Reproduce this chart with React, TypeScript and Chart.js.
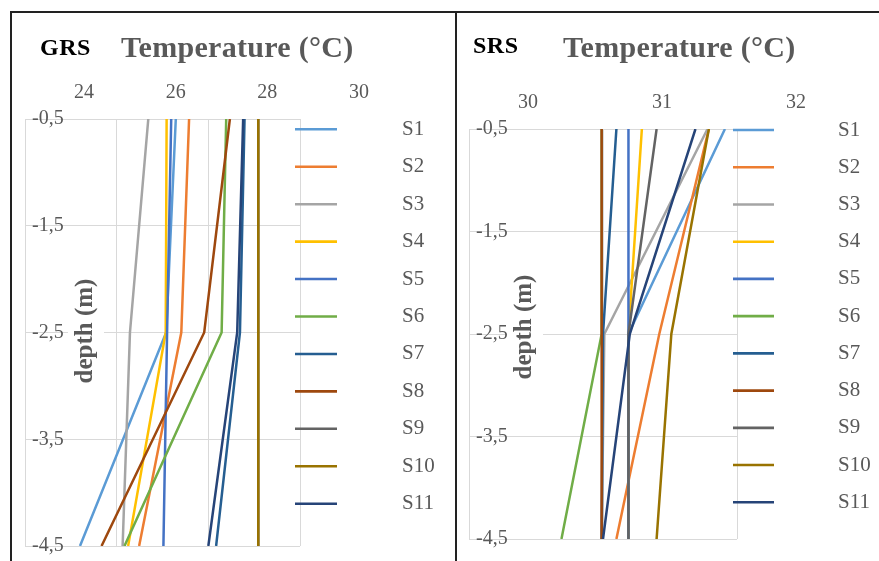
import React, { useEffect, useRef } from 'react';
import { Chart, registerables } from 'chart.js';

Chart.register(...registerables);

const FONT = '"Liberation Serif", "Times New Roman", serif';
const TEXT_GRAY = '#595959';
const GRID = '#d9d9d9';

// ---------- data ----------
const SERIES = ['S1', 'S2', 'S3', 'S4', 'S5', 'S6', 'S7', 'S8', 'S9', 'S10', 'S11'];
const COLORS = ['#5B9BD5', '#ED7D31', '#A5A5A5', '#FFC000', '#4472C4', '#70AD47', '#255E91', '#9E480E', '#636363', '#997300', '#264478'];

const DEPTHS = [-0.5, -2.5, -4.5];
const DEPTH_TICKS = [-4.5, -3.5, -2.5, -1.5, -0.5];

const GRS_TEMP_TICKS = [24, 26, 28, 30];
const SRS_TEMP_TICKS = [30, 31, 32];

// GRS temperatures at depths -0.5, -2.5, -4.5
const GRS_S1 = [27.29, 27.08, 25.2];
const GRS_S2 = [27.58, 27.41, 26.49];
const GRS_S3 = [26.69, 26.29, 26.13];
const GRS_S4 = [27.09, 27.07, 26.25];
const GRS_S5 = [27.19, 27.1, 27.02];
const GRS_S6 = [28.39, 28.29, 26.17];
const GRS_S7 = [28.79, 28.69, 28.17];
const GRS_S8 = [28.47, 27.91, 25.67];
const GRS_S9 = [29.09, 29.09, 29.09];
const GRS_S10 = [29.09, 29.09, 29.09];
const GRS_S11 = [28.76, 28.63, 28.0];

// SRS temperatures at depths -0.5, -2.5, -4.5
const SRS_S1 = [31.91, 31.19, 31.19];
const SRS_S2 = [31.79, 31.42, 31.1];
const SRS_S3 = [31.78, 31.01, 30.99];
const SRS_S4 = [31.29, 31.19, 31.19];
const SRS_S5 = [31.19, 31.19, 31.19];
const SRS_S6 = [30.99, 30.99, 30.69];
const SRS_S7 = [31.1, 31.0, 30.99];
const SRS_S8 = [30.99, 30.99, 30.99];
const SRS_S9 = [31.4, 31.19, 31.19];
const SRS_S10 = [31.79, 31.51, 31.4];
const SRS_S11 = [31.69, 31.2, 31.0];

const GRS_SERIES = [GRS_S1, GRS_S2, GRS_S3, GRS_S4, GRS_S5, GRS_S6, GRS_S7, GRS_S8, GRS_S9, GRS_S10, GRS_S11];
const SRS_SERIES = [SRS_S1, SRS_S2, SRS_S3, SRS_S4, SRS_S5, SRS_S6, SRS_S7, SRS_S8, SRS_S9, SRS_S10, SRS_S11];

const Y_TITLE = 'depth (m)';

// ---------- layout configs ----------
type PanelCfg = {
  left: number; width: number; height: number;
  xMin: number; xMax: number; xStep: number; xTicks: number[];
  topH: number; leftW: number; padRight: number; padBottom: number;
  legTop: number; legGap: number; legX0: number; legX1: number; legText: number;
  ytDx: number; ytDy: number;
  series: number[][];
};

const GRS_CFG: PanelCfg = {
  left: 0, width: 456, height: 600,
  xMin: 24, xMax: 30, xStep: 2, xTicks: GRS_TEMP_TICKS,
  topH: 119, leftW: 25, padRight: 156, padBottom: 54,
  legTop: 10.3, legGap: 37.44, legX0: -5, legX1: 37, legText: 102,
  ytDx: 61, ytDy: -1.5,
  series: GRS_SERIES,
};

const SRS_CFG: PanelCfg = {
  left: 440, width: 439, height: 600,
  xMin: 30, xMax: 32, xStep: 1, xTicks: SRS_TEMP_TICKS,
  topH: 129, leftW: 29, padRight: 142, padBottom: 61,
  legTop: 1, legGap: 37.23, legX0: -4, legX1: 37, legText: 101,
  ytDx: 56, ytDy: -7,
  series: SRS_SERIES,
};

function Panel({ cfg }: { cfg: PanelCfg }) {
  const ref = useRef<HTMLCanvasElement>(null);
  useEffect(() => {
    if (!ref.current) return;
    const decor = {
      id: 'decor',
      afterDraw(chart: any) {
        const ctx = chart.ctx as CanvasRenderingContext2D;
        const a = chart.chartArea;
        ctx.save();
        // legend
        ctx.lineWidth = 2.6;
        ctx.font = `21px ${FONT}`;
        ctx.textBaseline = 'middle';
        ctx.textAlign = 'left';
        SERIES.forEach((name, i) => {
          const y = a.top + cfg.legTop + i * cfg.legGap;
          ctx.strokeStyle = COLORS[i];
          ctx.beginPath();
          ctx.moveTo(a.right + cfg.legX0, y);
          ctx.lineTo(a.right + cfg.legX1, y);
          ctx.stroke();
          ctx.fillStyle = TEXT_GRAY;
          ctx.fillText(name, a.right + cfg.legText, y);
        });
        // y axis title with white box
        const cx = a.left + cfg.ytDx;
        const cy = (a.top + a.bottom) / 2 + cfg.ytDy;
        ctx.translate(cx, cy);
        ctx.rotate(-Math.PI / 2);
        ctx.font = `bold 25px ${FONT}`;
        const w = ctx.measureText(Y_TITLE).width;
        ctx.fillStyle = '#ffffff';
        ctx.fillRect(-w / 2 - 3, -18, w + 6, 36);
        ctx.fillStyle = TEXT_GRAY;
        ctx.textAlign = 'center';
        ctx.textBaseline = 'middle';
        ctx.fillText(Y_TITLE, 0, 0);
        ctx.restore();
      },
    };
    const chart = new Chart(ref.current, {
      type: 'line',
      data: {
        datasets: cfg.series.map((vals, i) => ({
          label: SERIES[i],
          data: DEPTHS.map((d, j) => ({ x: vals[j], y: d })),
          borderColor: COLORS[i],
          backgroundColor: COLORS[i],
          borderWidth: 2.5,
          pointRadius: 0,
          pointHoverRadius: 0,
          tension: 0,
          fill: false,
          order: SERIES.length - i,
        })),
      },
      options: {
        animation: false,
        responsive: false,
        events: [],
        layout: { padding: { left: 0, top: 0, right: cfg.padRight, bottom: cfg.padBottom } },
        plugins: { legend: { display: false }, tooltip: { enabled: false }, title: { display: false } },
        scales: {
          x: {
            type: 'linear',
            position: 'top',
            min: cfg.xMin,
            max: cfg.xMax,
            afterBuildTicks: (s: any) => { s.ticks = cfg.xTicks.map((v) => ({ value: v })); },
            afterFit: (s: any) => { s.height = cfg.topH; },
            ticks: {
              stepSize: cfg.xStep,
              labelOffset: 59,
              padding: 14,
              color: TEXT_GRAY,
              font: { family: FONT, size: 20 },
              maxRotation: 0,
              autoSkip: false,
              callback: (v: any) => String(v),
            },
            grid: { color: GRID, lineWidth: 1, drawTicks: false },
            border: { display: true, color: GRID, width: 1 },
          },
          y: {
            type: 'linear',
            min: -4.5,
            max: -0.5,
            afterBuildTicks: (s: any) => { s.ticks = DEPTH_TICKS.map((v) => ({ value: v })); },
            afterFit: (s: any) => { s.width = cfg.leftW; },
            ticks: {
              mirror: true,
              padding: 7,
              color: TEXT_GRAY,
              font: { family: FONT, size: 20 },
              autoSkip: false,
              callback: (v: any) => String(v).replace('.', ','),
            },
            grid: { color: GRID, lineWidth: 1, drawTicks: false },
            border: { display: true, color: GRID, width: 1 },
          },
        },
      } as any,
      plugins: [decor],
    });
    return () => chart.destroy();
  }, []);
  return (
    <canvas
      ref={ref}
      width={cfg.width}
      height={cfg.height}
      style={{ position: 'absolute', left: cfg.left, top: 0, width: cfg.width, height: cfg.height }}
    />
  );
}

const labelStyle = (left: number, top: number, size: number, color: string, spacing = 0): React.CSSProperties => ({
  position: 'absolute',
  left,
  top,
  fontFamily: FONT,
  fontWeight: 'bold',
  fontSize: size,
  lineHeight: `${size}px`,
  letterSpacing: spacing,
  color,
  whiteSpace: 'nowrap',
});

export default function App() {
  return (
    <div style={{ position: 'fixed', left: 0, top: 0, width: 879, height: 561, overflow: 'hidden', background: '#ffffff' }}>
      <Panel cfg={GRS_CFG} />
      <Panel cfg={SRS_CFG} />
      <div style={labelStyle(40, 35, 24, '#000000', 0.5)}>GRS</div>
      <div style={labelStyle(121, 32, 30, TEXT_GRAY, 0.3)}>Temperature (°C)</div>
      <div style={labelStyle(473, 33, 24, '#000000', 0.5)}>SRS</div>
      <div style={labelStyle(563, 32, 30, TEXT_GRAY, 0.3)}>Temperature (°C)</div>
      <div style={{ position: 'absolute', left: 10, top: 11, width: 869, height: 2, background: '#222' }} />
      <div style={{ position: 'absolute', left: 10, top: 11, width: 2, height: 550, background: '#222' }} />
      <div style={{ position: 'absolute', left: 455, top: 11, width: 2, height: 550, background: '#222' }} />
    </div>
  );
}
